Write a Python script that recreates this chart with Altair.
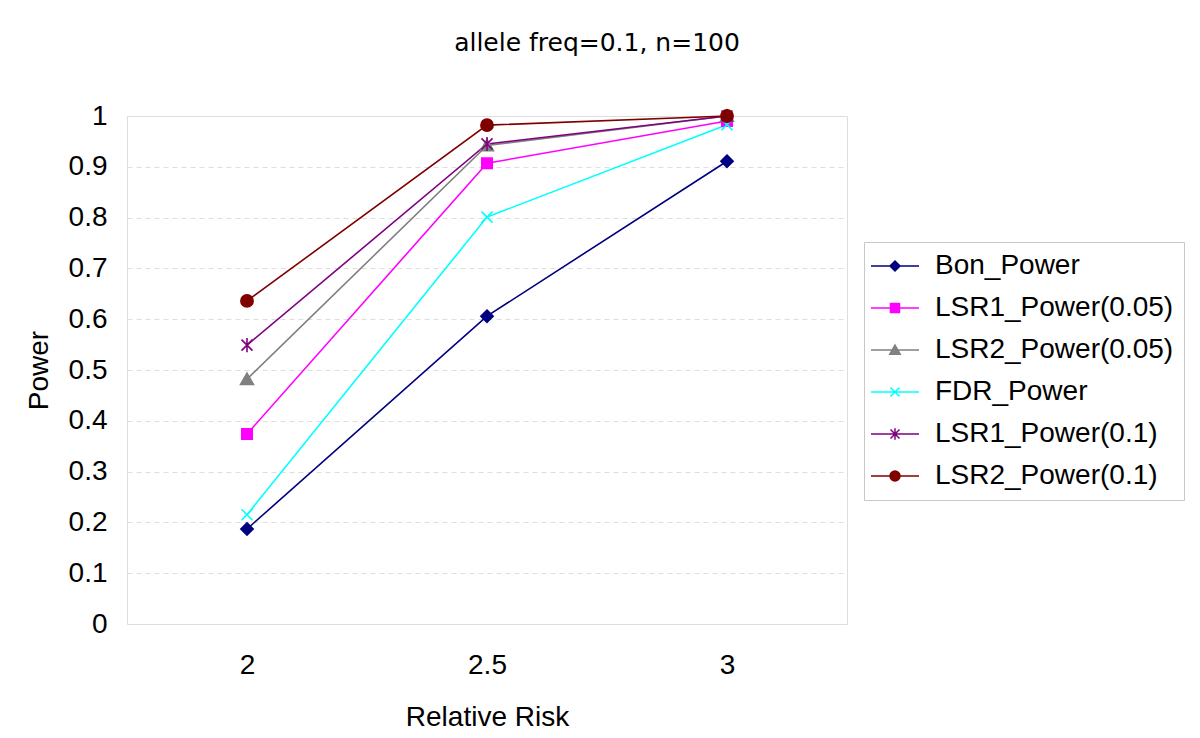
import altair as alt
import pandas as pd

RELATIVE_RISK = ["2", "2.5", "3"]
SERIES = ["Bon_Power", "LSR1_Power(0.05)", "LSR2_Power(0.05)", "FDR_Power",
          "LSR1_Power(0.1)", "LSR2_Power(0.1)"]
BON_POWER = [0.187, 0.606, 0.911]
LSR1_POWER_005 = [0.374, 0.907, 0.990]
LSR2_POWER_005 = [0.482, 0.942, 1.000]
FDR_POWER = [0.215, 0.801, 0.983]
LSR1_POWER_01 = [0.549, 0.945, 1.000]
LSR2_POWER_01 = [0.636, 0.982, 1.000]
Y_TICKS = [0, 0.1, 0.2, 0.3, 0.4, 0.5, 0.6, 0.7, 0.8, 0.9, 1.0]

COLORS = ["#000080", "#ff00ff", "#808080", "#00ffff", "#800080", "#800000"]
MARKERS = [
    "M0,-1L1,0L0,1L-1,0Z",
    "M-0.85,-0.85H0.85V0.85H-0.85Z",
    "M0,-1L1.05,0.85H-1.05Z",
    "M-0.9,-0.9L0.9,0.9M-0.9,0.9L0.9,-0.9",
    "M-0.9,-0.9L0.9,0.9M-0.9,0.9L0.9,-0.9M0,-1.15V1.15",
    "M1,0A1,1 0 1,1 -1,0A1,1 0 1,1 1,0Z",
]
LINE = "M-4.8,0H4.8"
LEG_MARKERS = [
    LINE + "M0,-1L1,0L0,1L-1,0Z",
    LINE + "M-0.9,-0.9H0.9V0.9H-0.9Z",
    LINE + "M0,-1L1.05,0.85H-1.05Z",
    LINE + "M-0.9,-0.9L0.9,0.9M-0.9,0.9L0.9,-0.9",
    LINE + "M-0.9,-0.9L0.9,0.9M-0.9,0.9L0.9,-0.9M0,-1.15V1.15",
    LINE + "M1,0A1,1 0 1,1 -1,0A1,1 0 1,1 1,0Z",
]

values = [BON_POWER, LSR1_POWER_005, LSR2_POWER_005, FDR_POWER, LSR1_POWER_01, LSR2_POWER_01]
rows = []
for s, vals in zip(SERIES, values):
    for rr, v in zip(RELATIVE_RISK, vals):
        rows.append({"Relative Risk": rr, "Power": v, "Series": s})
df = pd.DataFrame(rows)

FONT = "Liberation Sans"

x_enc = alt.X("Relative Risk:O",
              scale=alt.Scale(type="point", domain=RELATIVE_RISK, padding=0.5),
              axis=alt.Axis(title="Relative Risk", labelAngle=0, labelFont=FONT,
                            labelFontSize=28, labelColor="#000", labelPadding=27,
                            ticks=False, domain=False, grid=False,
                            titleFont=FONT, titleFontSize=28, titleFontWeight="normal",
                            titleColor="#000", titleY=101, titleBaseline="alphabetic"))
y_enc = alt.Y("Power:Q",
              scale=alt.Scale(domain=[0, 1], nice=False, zero=True),
              axis=alt.Axis(title="Power", values=Y_TICKS, format=".1~f",
                            labelFont=FONT, labelFontSize=28, labelColor="#000",
                            labelPadding=20, ticks=False, domain=False,
                            grid=True, gridColor="#dedede", gridDash=[5, 4], gridWidth=1,
                            titleFont=FONT, titleFontSize=28, titleFontWeight="normal",
                            titleColor="#000", titleX=-80, titleY=254,
                            titleAngle=270, titleBaseline="alphabetic", titleAlign="center"))

cscale = alt.Scale(domain=SERIES, range=COLORS)

lines = alt.Chart(df).mark_line(strokeWidth=1.6).encode(
    x=x_enc, y=y_enc,
    color=alt.Color("Series:N", scale=cscale, legend=None),
)
points = alt.Chart(df).mark_point(filled=True, size=150, strokeWidth=1.6, opacity=1).encode(
    x=x_enc, y=y_enc,
    color=alt.Color("Series:N", scale=cscale, legend=None),
    stroke=alt.Stroke("Series:N", scale=cscale, legend=None),
    shape=alt.Shape("Series:N", scale=alt.Scale(domain=SERIES, range=MARKERS), legend=None),
)
main = alt.layer(lines, points)

leg = alt.Legend(title=None, orient="none", legendX=737, legendY=126,
                 strokeColor="#c8c8c8", padding=10, labelFont=FONT, labelFontSize=28,
                 labelColor="#000", symbolSize=100, symbolStrokeWidth=1.5,
                 symbolOffset=7, labelOffset=26, rowPadding=14, labelLimit=500)
legend_layer = alt.Chart(df).transform_filter("false").mark_point(
    filled=True, strokeWidth=1.5, opacity=1).encode(
    x=x_enc, y=y_enc,
    fill=alt.Fill("Series:N", scale=cscale, legend=leg),
    stroke=alt.Stroke("Series:N", scale=cscale, legend=leg),
    shape=alt.Shape("Series:N", scale=alt.Scale(domain=SERIES, range=LEG_MARKERS), legend=leg),
)

chart = alt.layer(main, legend_layer).resolve_scale(
    color="independent", stroke="independent", shape="independent", fill="independent"
).properties(
    width=720, height=508,
    title=alt.Title("allele freq=0.1, n=100", font="DejaVu Sans", fontSize=25,
                    fontWeight="normal", color="#000", anchor="middle", dx=110,
                    offset=26, baseline="alphabetic"),
    padding={"left": 119, "top": 108, "right": 345, "bottom": 106},
    autosize=alt.AutoSizeParams(type="none"),
).configure_view(stroke="#808080", strokeWidth=2).configure(background="white")

chart.save("out.html", embed_options={"renderer": "svg", "actions": False})
